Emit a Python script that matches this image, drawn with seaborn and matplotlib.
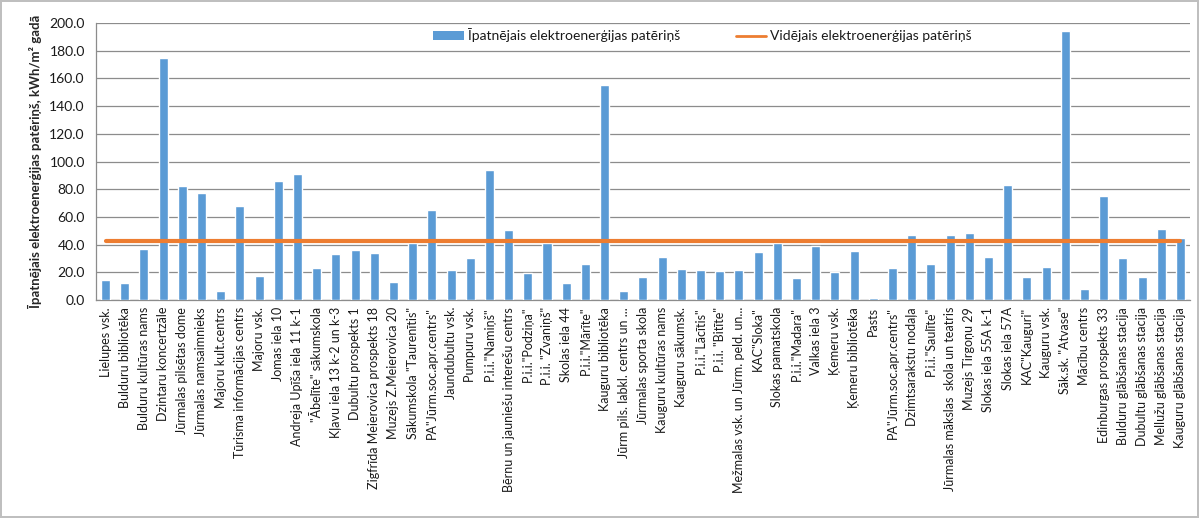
import matplotlib
matplotlib.use("Agg")
import matplotlib.pyplot as plt
from matplotlib.patches import Patch
from matplotlib.lines import Line2D
from matplotlib.ticker import FixedLocator, FormatStrFormatter
import seaborn as sns
import pandas as pd
import numpy as np

# Objects (buildings / institutions)
objekti = [
    "Lielupes vsk.", "Bulduru bibliotēka", "Bulduru kultūras nams", "Dzintaru koncertzāle",
    "Jūrmalas pilsētas dome", "Jūrmalas namsaimnieks", "Majoru kult.centrs",
    "Tūrisma informācijas centrs", "Majoru vsk.", "Jomas iela 10", "Andreja Upīša iela 11 k-1",
    "\"Ābelīte\" sākumskola", "Kļavu iela 13 k-2 un k-3", "Dubultu prospekts 1",
    "Zigfrīda Meierovica prospekts 18", "Muzejs Z.Meierovica 20", "Sākumskola \"Taurenītis\"",
    "PA\"Jūrm.soc.apr.centrs\"", "Jaundubultu vsk.", "Pumpuru vsk.", "P.i.i.\"Namiņš\"",
    "Bērnu un jauniešu interešu centrs", "P.i.i.\"Podziņa\"", "P.i.i. \"Zvaniņš\"",
    "Skolas iela 44", "P.i.i.\"Mārīte\"", "Kauguru bibliotēka", "Jūrm pils. labkl. centrs un ...",
    "Jūrmalas sporta skola", "Kauguru kultūras nams", "Kauguru sākumsk.", "P.i.i.\"Lācītis\"",
    "P.i.i. \"Bitīte\"", "Mežmalas vsk. un Jūrm. peld. un...", "KAC\"Sloka\"",
    "Slokas pamatskola", "P.i.i.\"Madara\"", "Valkas iela 3", "Ķemeru vsk.",
    "Ķemeru bibliotēka", "Pasts", "PA\"Jūrm.soc.apr.centrs\"", "Dzimtsarakstu nodaļa",
    "P.i.i.\"Saulīte\"", "Jūrmalas mākslas  skola un teatris", "Muzejs Tirgoņu 29",
    "Slokas iela 55A k-1", "Slokas iela 57A", "KAC\"Kauguri\"", "Kauguru vsk.",
    "Sāk.sk. \"Atvase\"", "Mācību centrs", "Edinburgas prospekts 33",
    "Bulduru glābšanas stacija", "Dubultu glābšanas stacija", "Mellužu glābšanas stacija",
    "Kauguru glābšanas stacija",
]

# Specific electricity consumption, kWh/m2 per year
ipatnejais = [
    14.5, 12.3, 36.9, 175.0, 82.4, 77.3, 6.5, 68.0, 17.3, 86.0, 91.0, 23.1, 33.3, 36.1,
    34.0, 13.0, 41.2, 65.0, 21.7, 30.4, 94.0, 50.6, 19.5, 41.2, 12.3, 26.0, 155.4, 6.5,
    16.6, 31.1, 22.4, 21.7, 21.0, 21.7, 34.7, 41.2, 15.9, 39.0, 20.2, 35.4, 1.4, 23.1,
    47.0, 26.0, 47.0, 48.4, 31.1, 83.1, 16.6, 23.9, 194.5, 8.0, 75.2, 30.4, 16.6, 51.3,
    44.8,
]

# Average electricity consumption
videjais = 42.9

y_ticks = [0, 20, 40, 60, 80, 100, 120, 140, 160, 180, 200]

bar_label = "Īpatnējais elektroenerģijas patēriņš"
line_label = "Vidējais elektroenerģijas patēriņš"
y_label = "Īpatnējais elektroenerģijas patēriņš, kWh/m² gadā"

bar_color = "#5B9BD5"
line_color = "#ED7D31"
grid_color = "#8C8C8C"
text_color = "#1A1A1A"

n = len(objekti)
df = pd.DataFrame({
    "nr": np.arange(n),
    "ipatnejais": ipatnejais,
    "videjais": [videjais] * n,
})

sns.set_style("white")
plt.rcParams["font.family"] = ["Lato", "DejaVu Sans"]
plt.rcParams["text.color"] = text_color
plt.rcParams["xtick.color"] = text_color
plt.rcParams["ytick.color"] = text_color

fig = plt.figure(figsize=(11.99, 5.18), dpi=100)
fig.patch.set_edgecolor("#BFBFBF")
fig.patch.set_linewidth(1.5)
ax = fig.add_axes([0.080, 0.4208, 0.9925 - 0.080, 0.9556 - 0.4208])

sns.barplot(data=df, x="nr", y="ipatnejais", color=bar_color, width=0.47,
            saturation=1, ax=ax, zorder=3)
sns.lineplot(data=df, x="nr", y="videjais", color=line_color, linewidth=3,
             ax=ax, zorder=4)

ax.set_xlim(-0.5, n - 0.5)
ax.set_ylim(0, 200)
ax.yaxis.set_major_locator(FixedLocator(y_ticks))
ax.yaxis.set_major_formatter(FormatStrFormatter("%.1f"))
ax.yaxis.grid(True, color=grid_color, linewidth=0.9, zorder=0)
ax.set_axisbelow(True)

ax.set_xticks(np.arange(n))
ax.set_xticklabels(objekti, rotation=90, fontsize=9, ha="center", va="top")
ax.xaxis.set_minor_locator(FixedLocator(np.arange(n + 1) - 0.5))
ax.tick_params(axis="x", which="major", length=0, pad=5, colors=text_color)
ax.tick_params(axis="x", which="minor", length=5, color=grid_color, width=0.9)
ax.tick_params(axis="y", which="major", length=5, color=grid_color, width=0.9,
               labelsize=10, pad=3, labelcolor=text_color)

for side in ("top", "right"):
    ax.spines[side].set_visible(False)
for side in ("left", "bottom"):
    ax.spines[side].set_color(grid_color)
    ax.spines[side].set_linewidth(0.9)

ax.set_xlabel("")
ax.set_ylabel(y_label, fontsize=9.5, fontweight="bold", labelpad=5)

handles = [
    Patch(facecolor=bar_color, edgecolor="none"),
    Line2D([0], [0], color=line_color, linewidth=2),
]
fig.legend(handles, [bar_label, line_label], loc="center",
           bbox_to_anchor=(0.586, 0.932), ncol=2, frameon=False, fontsize=10,
           handlelength=2.2, handleheight=0.6, handletextpad=0.3, columnspacing=4)

fig.savefig("out.png", dpi=100)
